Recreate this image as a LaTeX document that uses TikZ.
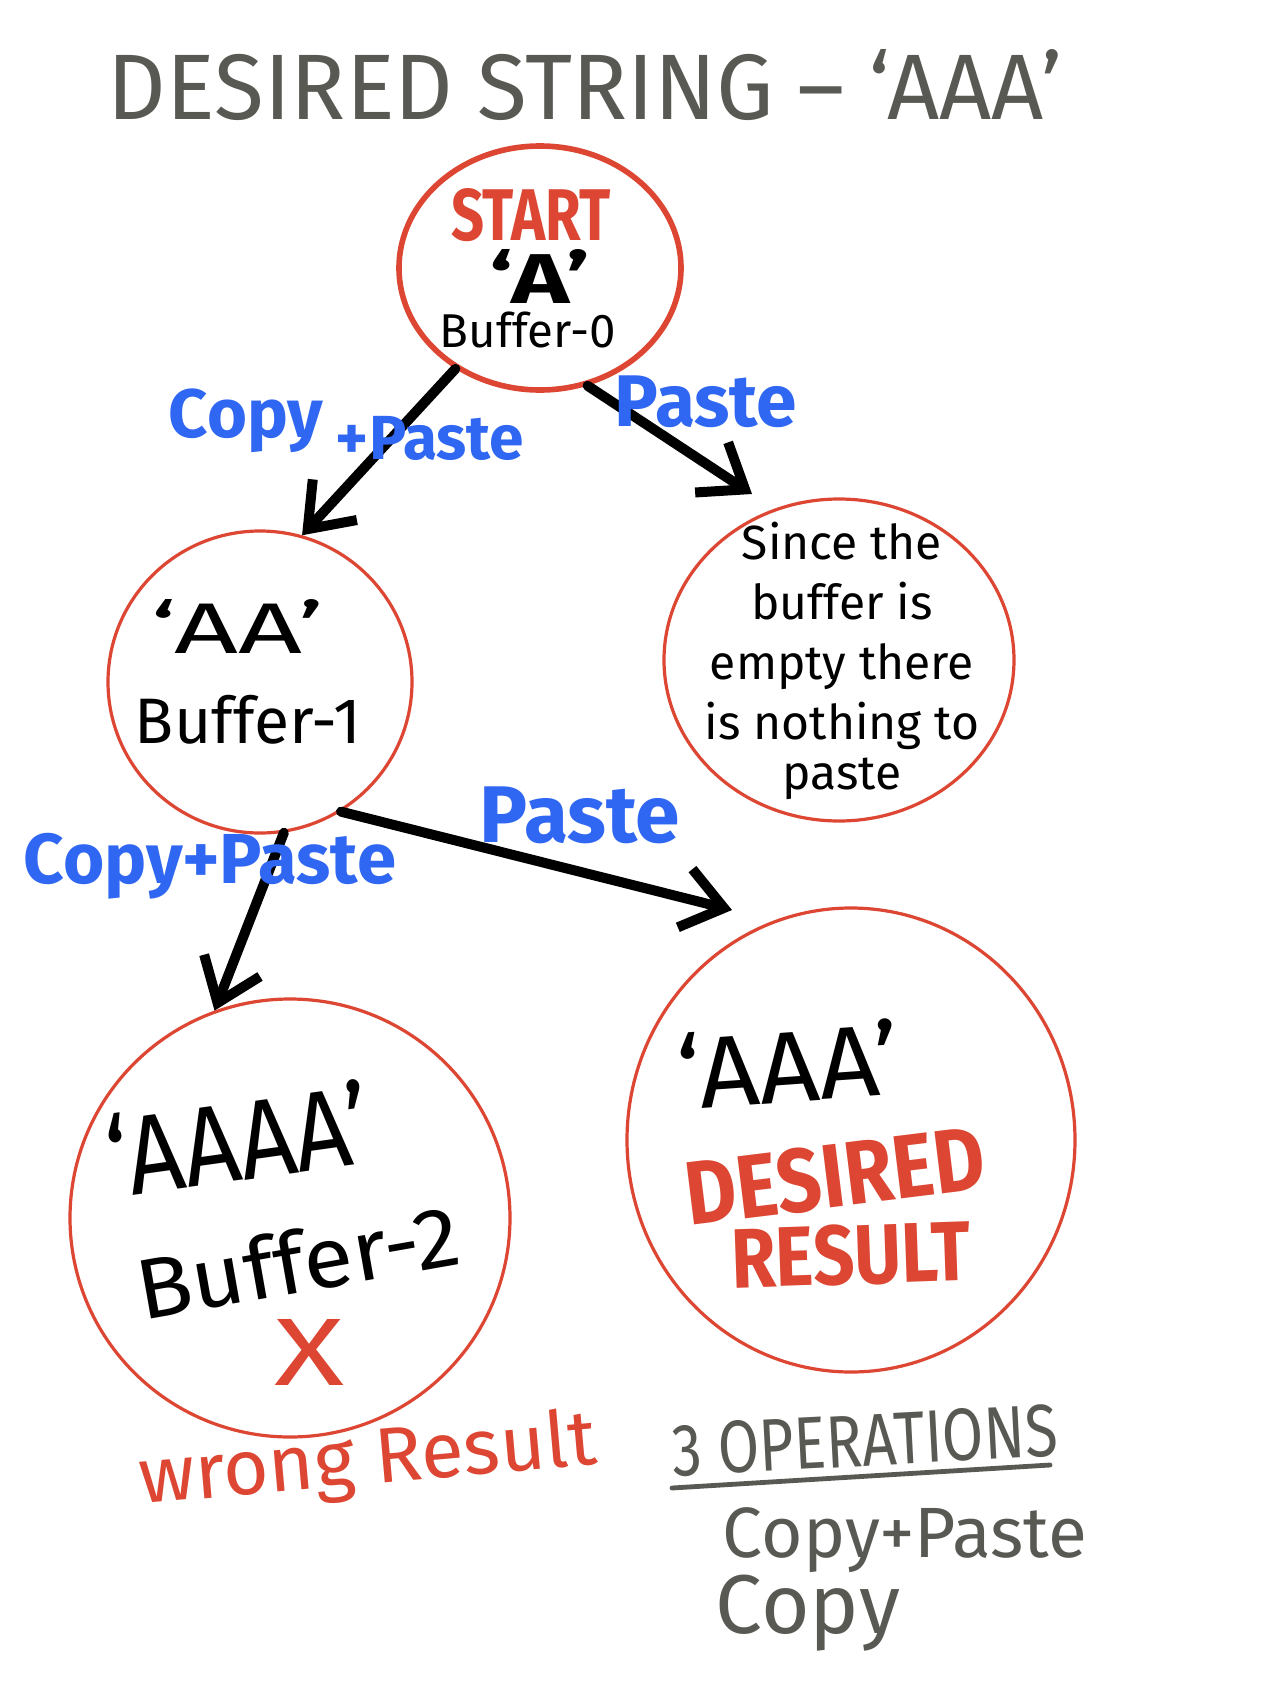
\documentclass[tikz,border=0pt]{standalone}
\usepackage{fontspec}
\setmainfont{Fira Sans}
\usepackage{graphicx}
\usetikzlibrary{shapes.geometric,arrows.meta}
\definecolor{hred}{HTML}{DC4632}
\definecolor{hblue}{HTML}{2F66F2}
\definecolor{hgray}{HTML}{595954}
\newcommand{\fitw}[2]{\resizebox{#1}{!}{#2}}
\newcommand{\fitwh}[3]{\resizebox{#1}{#2}{#3}}
\begin{document}
\begin{tikzpicture}[x=0.5pt,y=-0.5pt,
  bubble/.style={draw=hred, shape=ellipse, line width=1.6pt, inner sep=0pt, line join=round},
  flow/.style={draw=black, line width=5pt, line cap=round, line join=round,
    -{Straight Barb[length=20pt,width=30pt]}},
  txt/.style={inner sep=0pt, outer sep=0pt, anchor=base},
  redtxt/.style={txt, text=hred, font=\bfseries},
  bluetxt/.style={txt, text=hblue, font=\bfseries},
  graytxt/.style={txt, text=hgray}]
\useasboundingbox[fill=white] (0,0) rectangle (1276,1692);

% title
\node[graytxt] (title) at (585,119) {\fitwh{477pt}{35pt}{DESIRED STRING – ‘AAA’}};

% bubbles
\node[bubble, line width=2.8pt, minimum width=141pt, minimum height=122pt] (start) at (540,268) {};
\node[bubble, minimum width=152pt, minimum height=151pt] (aa) at (260,682) {};
\node[bubble, minimum width=175pt, minimum height=161pt] (since) at (839,660) {};
\node[bubble, minimum width=220pt, minimum height=219pt] (aaaa) at (290,1218) {};
\node[bubble, minimum width=224pt, minimum height=232pt] (aaa) at (851,1140) {};

% texts in START
\node[redtxt] (starttxt) at (531,240) {\fitwh{80pt}{26pt}{START}};
\node[txt, font=\bfseries] (atxt) at (540,303) {\fitwh{50pt}{27pt}{‘A’}};
\node[txt] (buf0) at (528,347) {\fitw{88pt}{Buffer-0}};

% texts in AA
\node[txt] (aatxt) at (238,653) {\fitwh{86pt}{27pt}{‘AA’}};
\node[txt] (buf1) at (248,743) {\fitw{113pt}{Buffer-1}};

% since bubble text
\node[inner sep=0pt, anchor=north, align=center, font=\fontsize{24pt}{30pt}\selectfont] (sincetxt) at (842,522)
  {Since the\\ buffer is\\ empty there\\ is nothing to\\[-5pt] paste};

% AAAA bubble
\node[txt, rotate=8] (aaaatxt) at (244,1180) {\fitwh{132pt}{42pt}{‘AAAA’}};
\node[txt, rotate=10] (buf2) at (303,1292) {\fitwh{163pt}{32pt}{Buffer-2}};
\node[txt, text=hred] (cross) at (310,1385) {\fitwh{35pt}{33pt}{X}};
\node[txt, text=hred, rotate=5] (wrong) at (370,1484) {\fitw{229pt}{wrong Result}};

% AAA bubble
\node[txt, rotate=4] (aaatxt) at (791,1102) {\fitwh{111pt}{38pt}{‘AAA’}};
\node[redtxt, anchor=center, rotate=7] (desired) at (835,1176) {\fitwh{150pt}{32pt}{DESIRED}};
\node[redtxt, anchor=center, rotate=2] (result) at (851,1255) {\fitwh{120pt}{30pt}{RESULT}};

% operations summary
\node[graytxt, rotate=3] (ops) at (866,1466) {\fitwh{193pt}{26pt}{3 OPERATIONS}};
\draw[hgray, line width=2.4pt, line cap=round] (672,1488) -- (1050,1465);
\node[graytxt] (op1) at (905,1557) {\fitw{182pt}{Copy+Paste}};
\node[graytxt] (op2) at (808,1633) {\fitw{92pt}{Copy}};

% arrows
\coordinate (tipsince) at (752,494);
\coordinate (tipaaa) at (732,910);
\draw[flow] (start.230) -- (aa.74);
\draw[flow] (start.292) -- (tipsince);
\draw[flow] (aa.279) -- (aaaa.110);
\draw[flow] (aa.302) -- (tipaaa);

% arrow labels
\node[bluetxt] (l1a) at (246,437) {\fitw{77pt}{Copy}};
\node[bluetxt] (l1b) at (430,459) {\fitw{94pt}{+Paste}};
\node[bluetxt] (l2) at (706,426) {\fitw{91pt}{Paste}};
\node[bluetxt] (l3) at (210,883) {\fitw{186pt}{Copy+Paste}};
\node[bluetxt] (l4) at (580,842) {\fitw{100pt}{Paste}};
\end{tikzpicture}
\end{document}
